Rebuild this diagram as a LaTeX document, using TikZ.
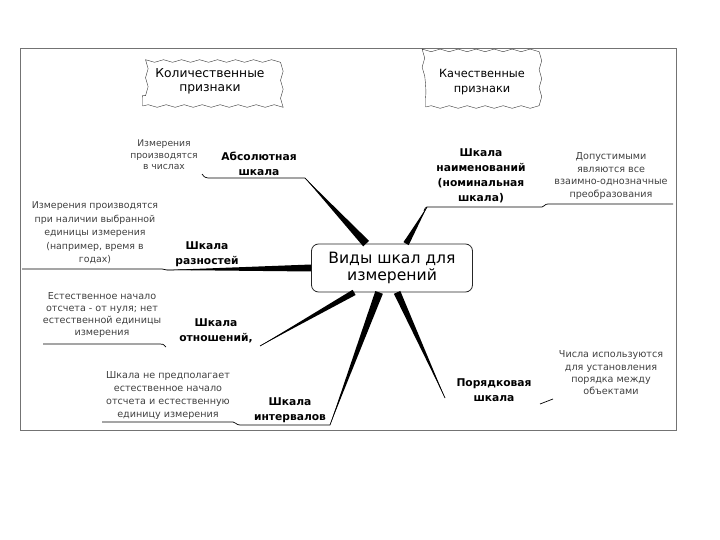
\documentclass[tikz,border=0pt]{standalone}
\usepackage{fontspec}
\setmainfont{DejaVu Sans}
\usetikzlibrary{calc,decorations.pathmorphing}
\tikzset{
  lbl/.style={font=\fontsize{10.7}{15}\selectfont\bfseries,align=center,inner sep=0pt},
  note/.style={font=\fontsize{9.6}{12.5}\selectfont,text=black!75,align=center,inner sep=0pt},
  wavy/.style={draw=black!80,decorate,decoration={snake,amplitude=1.3pt,segment length=18pt},
    minimum width=135pt,minimum height=50pt,align=center,font=\fontsize{12.3}{14}\selectfont},
  hub/.style={draw=black!85,line width=0.8pt,rounded corners=7pt,fill=white,
    minimum width=161pt,minimum height=48pt,align=center,font=\fontsize{15.6}{17}\selectfont},
  uline/.style={line width=0.7pt},
}
\newcommand\branch[3]{%
  \fill (#1) -- ($(#2)!#3!90:(#1)$) -- ($(#2)!#3!-90:(#1)$) -- cycle;
  \draw[uline] (#1) -- (#2);}

\begin{document}
\begin{tikzpicture}[x=1pt,y=-1pt]
  \useasboundingbox (0,0) rectangle (720,540);
  \draw[black!55,line width=0.8pt] (20,48) rectangle (676,430);
  % headings
  \node[wavy] (quant) at (210,81) {Количественные\\признаки};
  \node[wavy,minimum width=113pt,font=\fontsize{11.3}{15}\selectfont] (qual) at (482,82)
    {Качественные\\признаки};
  % hub
  \node[hub] (ctr) at (392,268) {Виды шкал для\\измерений};
  % scales
  \node[lbl] (abs) at (259,164) {Абсолютная\\шкала};
  \node[lbl] (nom) at (481,176) {Шкала\\наименований\\(номинальная\\шкала)};
  \node[lbl] (diff) at (207,254) {Шкала\\разностей};
  \node[lbl] (ratio) at (216,331) {Шкала\\отношений,};
  \node[lbl] (interv) at (290,410) {Шкала\\интервалов};
  \node[lbl] (ord) at (494,390) {Порядковая\\шкала};
  % notes
  \node[note,font=\fontsize{9.2}{11.5}\selectfont] (absnote) at (164,155)
    {Измерения\\производятся\\в числах};
  \node[note,font=\fontsize{9.6}{12.7}\selectfont] (nomnote) at (611,176)
    {Допустимыми\\являются все\\взаимно-однозначные\\преобразования};
  \node[note,font=\fontsize{9.4}{13.5}\selectfont] (diffnote) at (95,233)
    {Измерения производятся\\при наличии выбранной\\единицы измерения\\(например, время в\\годах)};
  \node[note,font=\fontsize{9.6}{11.8}\selectfont] (rationote) at (102,315)
    {Естественное начало\\отсчета - от нуля; нет\\естественной единицы\\измерения};
  \node[note,font=\fontsize{9.6}{13}\selectfont] (intnote) at (168,395)
    {Шкала не предполагает\\естественное начало\\отсчета и естественную\\единицу измерения};
  \node[note,font=\fontsize{9.6}{12.3}\selectfont] (ordnote) at (611,373)
    {Числа используются\\для установления\\порядка между\\объектами};
  % underlines
  \coordinate (abs-l) at (208,178);
  \coordinate (abs-r) at (305,178);
  \coordinate (nom-l) at (427,207);
  \coordinate (nom-r) at (673,204);
  \coordinate (diff-l) at (22,269);
  \coordinate (diff-r) at (167,270);
  \coordinate (ratio-l) at (43,344);
  \coordinate (ratio-r) at (260,346);
  \coordinate (int-l) at (102,422);
  \coordinate (int-r) at (330,425);
  \coordinate (ord-r) at (445,398);
  \draw[uline] (202,174) .. controls (204,177) .. (abs-l) -- (abs-r);
  \draw[uline] (424,211) .. controls (425,208) .. (nom-l) -- (542,207)
    .. controls (545,207) and (544,204) .. (548,204) -- (nom-r);
  \draw[uline] (diff-l) -- (162,269) .. controls (165,269) .. (diff-r);
  \draw[uline] (ratio-l) -- (160,344) .. controls (163,344) .. (166,347);
  \draw[uline] (int-l) -- (233,422) .. controls (236,422) and (236,425) .. (240,425) -- (int-r);
  \draw[uline] (540,404) .. controls (546,402) .. (553,399);
  % branches
  \branch{abs-r}{$(ctr.north west)+(55,0)$}{4pt}
  \branch{nom-l}{$(ctr.north west)+(95,0)$}{3pt}
  \branch{diff-r}{ctr.west}{3.5pt}
  \branch{ratio-r}{$(ctr.south west)+(43,0)$}{3pt}
  \branch{int-r}{$(ctr.south west)+(68,0)$}{4pt}
  \branch{ord-r}{$(ctr.south west)+(86,0)$}{3.5pt}
\end{tikzpicture}
\end{document}
